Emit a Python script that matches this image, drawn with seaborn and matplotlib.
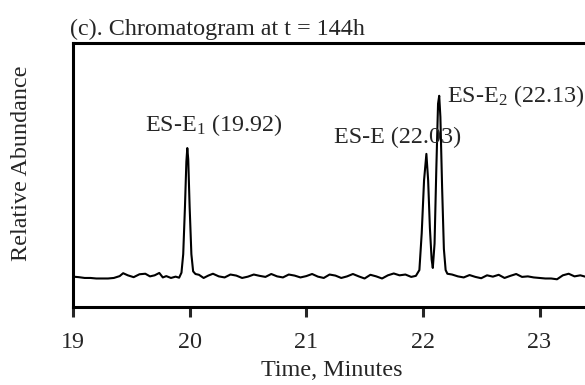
import matplotlib
matplotlib.use("Agg")
import matplotlib.pyplot as plt
import pandas as pd
import seaborn as sns

# retention time (min) and detector signal (arbitrary units)
TIME = [
    19.00, 19.05, 19.10, 19.15, 19.20, 19.25, 19.30, 19.35, 19.40, 19.43,
    19.47, 19.52, 19.57, 19.62, 19.66, 19.70, 19.74, 19.77, 19.80, 19.84,
    19.88, 19.91, 19.93, 19.945, 19.96, 19.972, 19.98, 19.988, 20.00, 20.015,
    20.03, 20.05, 20.08, 20.12, 20.16, 20.20, 20.25, 20.30, 20.35, 20.40,
    20.45, 20.50, 20.55, 20.60, 20.65, 20.70, 20.75, 20.80, 20.85, 20.90,
    20.95, 21.00, 21.05, 21.10, 21.15, 21.20, 21.25, 21.30, 21.35, 21.40,
    21.45, 21.50, 21.55, 21.60, 21.65, 21.70, 21.75, 21.80, 21.85, 21.90,
    21.94, 21.97, 21.99, 22.01, 22.03, 22.045, 22.06, 22.075, 22.085, 22.10,
    22.115, 22.13, 22.14, 22.15, 22.165, 22.18, 22.195, 22.21, 22.25, 22.30,
    22.35, 22.40, 22.45, 22.50, 22.55, 22.60, 22.65, 22.70, 22.75, 22.80,
    22.85, 22.90, 22.95, 23.00, 23.05, 23.10, 23.15, 23.20, 23.25, 23.30,
    23.35, 23.40,
]
SIGNAL = [
    11.5, 11.3, 11.0, 11.0, 10.8, 10.8, 10.8, 11.0, 11.7, 12.8,
    12.0, 11.3, 12.4, 12.6, 11.6, 12.0, 12.9, 11.2, 11.7, 11.0,
    11.5, 11.1, 13.0, 20.0, 38.0, 55.0, 60.2, 56.0, 38.0, 20.0,
    13.5, 12.5, 12.2, 11.0, 11.9, 12.6, 11.6, 11.2, 12.3, 11.9,
    11.0, 11.5, 12.3, 11.8, 11.4, 12.5, 11.6, 11.2, 12.3, 11.9,
    11.2, 11.7, 12.5, 11.5, 11.0, 12.3, 11.9, 11.0, 11.6, 12.5,
    11.6, 10.8, 12.2, 11.6, 10.8, 12.0, 12.7, 12.0, 12.3, 11.4,
    11.8, 14.0, 28.0, 48.0, 58.0, 48.0, 30.0, 18.0, 14.8, 24.0,
    52.0, 77.0, 80.0, 72.0, 45.0, 22.0, 14.0, 12.6, 12.3, 11.6,
    11.2, 12.1, 11.4, 10.9, 12.0, 11.5, 12.2, 11.0, 11.8, 12.5,
    11.4, 11.6, 11.2, 11.0, 10.8, 10.8, 10.5, 12.0, 12.6, 11.6,
    12.0, 11.4,
]

PEAK_LABELS = ["ES-E$_1$ (19.92)", "ES-E (22.03)", "ES-E$_2$ (22.13)"]
XTICKS = [19, 20, 21, 22, 23]

FS = 17.4

sns.set_style("ticks")
plt.rcParams["font.family"] = ["Liberation Serif", "DejaVu Serif"]
plt.rcParams["mathtext.default"] = "regular"
plt.rcParams["font.size"] = FS

data = pd.DataFrame({"time": TIME, "signal": SIGNAL})

fig = plt.figure(figsize=(5.85, 3.85), dpi=100)
ax = fig.add_axes([73 / 585, 1 - 307 / 385, 1 - 73 / 585, (307 - 43) / 385])
sns.lineplot(data=data, x="time", y="signal", ax=ax, color="black", linewidth=1.5)

ax.set_xlim(19, 23.39)
ax.set_ylim(0, 100)
ax.set_xticks(XTICKS)
ax.set_yticks([])
ax.set_xlabel("")
ax.set_ylabel("")
ax.tick_params(axis="x", direction="out", length=7, width=2.2, labelsize=FS, pad=11)
for side in ["left", "bottom", "top"]:
    ax.spines[side].set_linewidth(2.2)
    ax.spines[side].set_color("black")
ax.spines["right"].set_visible(False)

ax.text(20.21, 69, PEAK_LABELS[0], ha="center", va="center", fontsize=FS)
ax.text(21.78, 64.4, PEAK_LABELS[1], ha="center", va="center", fontsize=FS)
ax.text(23.382, 80, PEAK_LABELS[2], ha="right", va="center", fontsize=FS)

fig.text(70 / 585, 1 - 29 / 385, "(c). Chromatogram at t = 144h", ha="left", va="center", fontsize=FS)
fig.text(332 / 585, 1 - 371 / 385, "Time, Minutes", ha="center", va="center", fontsize=FS)
fig.text(22 / 585, 1 - 163 / 385, "Relative Abundance", ha="center", va="center",
         rotation=90, fontsize=FS)

fig.savefig("out.png", dpi=100)
